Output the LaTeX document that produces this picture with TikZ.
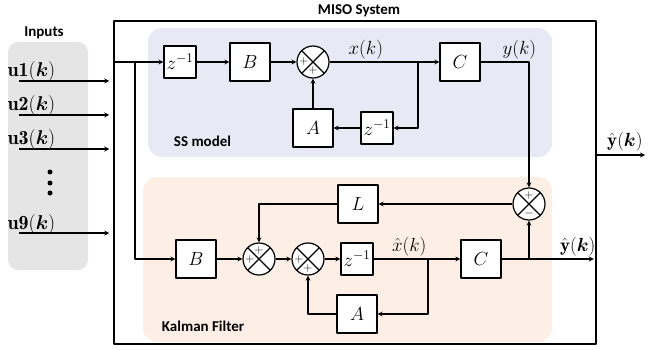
\documentclass[tikz,border=0pt]{standalone}
\usepackage{fix-cm}
\usepackage{fontspec}
\setsansfont{Carlito}
\usepackage{bm}
\definecolor{ssbg}{RGB}{233,233,246}
\definecolor{kfbg}{RGB}{253,238,230}
\definecolor{inbg}{RGB}{229,229,229}
\tikzset{
	blk/.style={draw,fill=white,minimum width=40pt,minimum height=38pt,inner sep=0pt},
	zblk/.style={blk,minimum width=32pt,minimum height=32pt},
	sumnode/.style={draw,circle,fill=white,minimum size=32pt,inner sep=0pt,
		path picture={\draw (path picture bounding box.north west)--(path picture bounding box.south east)
			(path picture bounding box.north east)--(path picture bounding box.south west);}},
	ttl/.style={font=\sffamily\bfseries\fontsize{15}{18}\selectfont}
}
\begin{document}
\begin{tikzpicture}[x=1pt,y=-1pt,line width=1.2pt,line join=round,>=stealth,font=\fontsize{19}{22}\selectfont]
	\useasboundingbox (0,0) rectangle (648,350);
	% backgrounds
	\fill[inbg,rounded corners=10pt] (8,42) rectangle (88,270);
	\fill[ssbg,rounded corners=14pt] (148,28) rectangle (552,157);
	\fill[kfbg,rounded corners=14pt] (143,177) rectangle (552,342);
	\node[draw,line width=1.5pt,minimum width=482pt,minimum height=323pt,inner sep=0pt] (sys) at (355,182.5) {};
	\node[ttl] (tsys) at (359,11) {MISO System};
	\node[ttl] (tin) at (44,33) {Inputs};
	\node[ttl,anchor=west] (tss) at (170,141) {SS model};
	\node[ttl,anchor=west] (tkf) at (158,326) {Kalman Filter};
	% inputs
	\foreach \n/\y in {1/72,2/106,3/140,9/224}{
		\node[anchor=west,inner sep=0pt,font=\fontsize{20}{22}\selectfont] (u\n) at (7,\y) {$\mathbf{u\n}(\bm{k})$};
		\coordinate (in\n) at (19,{\y+9});
		\draw[->,shorten >=4pt] (in\n) -- (sys.west|-in\n);
	}
	\foreach \y in {172,183,193}
	\fill (50,\y) circle (2.5pt);
	% blocks
	\node[zblk] (z1) at (180,62) {$z^{-1}$};
	\node[blk] (B1) at (250,62) {$B$};
	\node[sumnode] (s1) at (313,62) {};
	\node[blk] (C1) at (460,62) {$C$};
	\node[blk] (A1) at (313,128) {$A$};
	\node[zblk] (z3) at (377,128) {$z^{-1}$};
	\node[sumnode] (s3) at (529,204) {};
	\node[blk] (L) at (358,204) {$L$};
	\node[blk] (B2) at (196,259) {$B$};
	\node[sumnode] (s2) at (259,259) {};
	\node[sumnode] (s4) at (308,259) {};
	\node[zblk] (z2) at (357,259) {$z^{-1}$};
	\node[blk] (C2) at (481,259) {$C$};
	\node[blk] (A2) at (357,314) {$A$};
	\foreach \s/\a/\t [count=\i] in {s1/180/+,s1/-90/+,s2/90/+,s2/180/+,s4/180/+,s4/-90/+,s3/90/+,s3/-90/-}
	\node[font=\fontsize{12}{13}\selectfont,inner sep=0pt] (sg\i) at ([shift={(\a:9pt)}]\s.center) {$\t$};
	% state space model
	\coordinate (br) at (135,62);
	\coordinate (xb) at (418,62);
	\draw[->] (sys.west|-z1) -- (z1);
	\draw[->] (br) |- (B2);
	\draw[->] (z1) -- (B1);
	\draw[->] (B1) -- (s1);
	\draw[->] (s1) -- node[pos=.33,above,inner sep=2pt] (xk) {$x(k)$} (C1);
	\draw[->] (xb) |- (z3);
	\draw[->] (z3) -- (A1);
	\draw[->] (A1) -- (s1);
	\draw[->] (C1) -| node[pos=.4,above,inner sep=2pt] (yk) {$y(k)$} (s3);
	% kalman filter
	\coordinate (xhb) at (428,259);
	\coordinate (yhb) at (529,259);
	\draw[->] (s3) -- (L);
	\draw[->] (L) -| (s2);
	\draw[->] (B2) -- (s2);
	\draw[->] (s2) -- (s4);
	\draw[->] (s4) -- (z2);
	\draw[->] (z2) -- node[pos=.41,above,inner sep=2pt] (xhk) {$\hat{x}(k)$} (C2);
	\draw[->] (xhb) |- (A2);
	\draw[->] (A2) -| (s4);
	\draw[->] (yhb) -- (s3);
	\draw[->,shorten >=3pt] (C2) -- node[pos=.8,above,inner sep=2pt] (yhk) {$\hat{\mathbf{y}}(\bm{k})$} (sys.east|-C2);
	% output
	\coordinate (out) at (645,155);
	\draw[->] (sys.east|-out) -- node[above,xshift=4pt] (yout) {$\hat{\mathbf{y}}(\bm{k})$} (out);
\end{tikzpicture}
\end{document}
